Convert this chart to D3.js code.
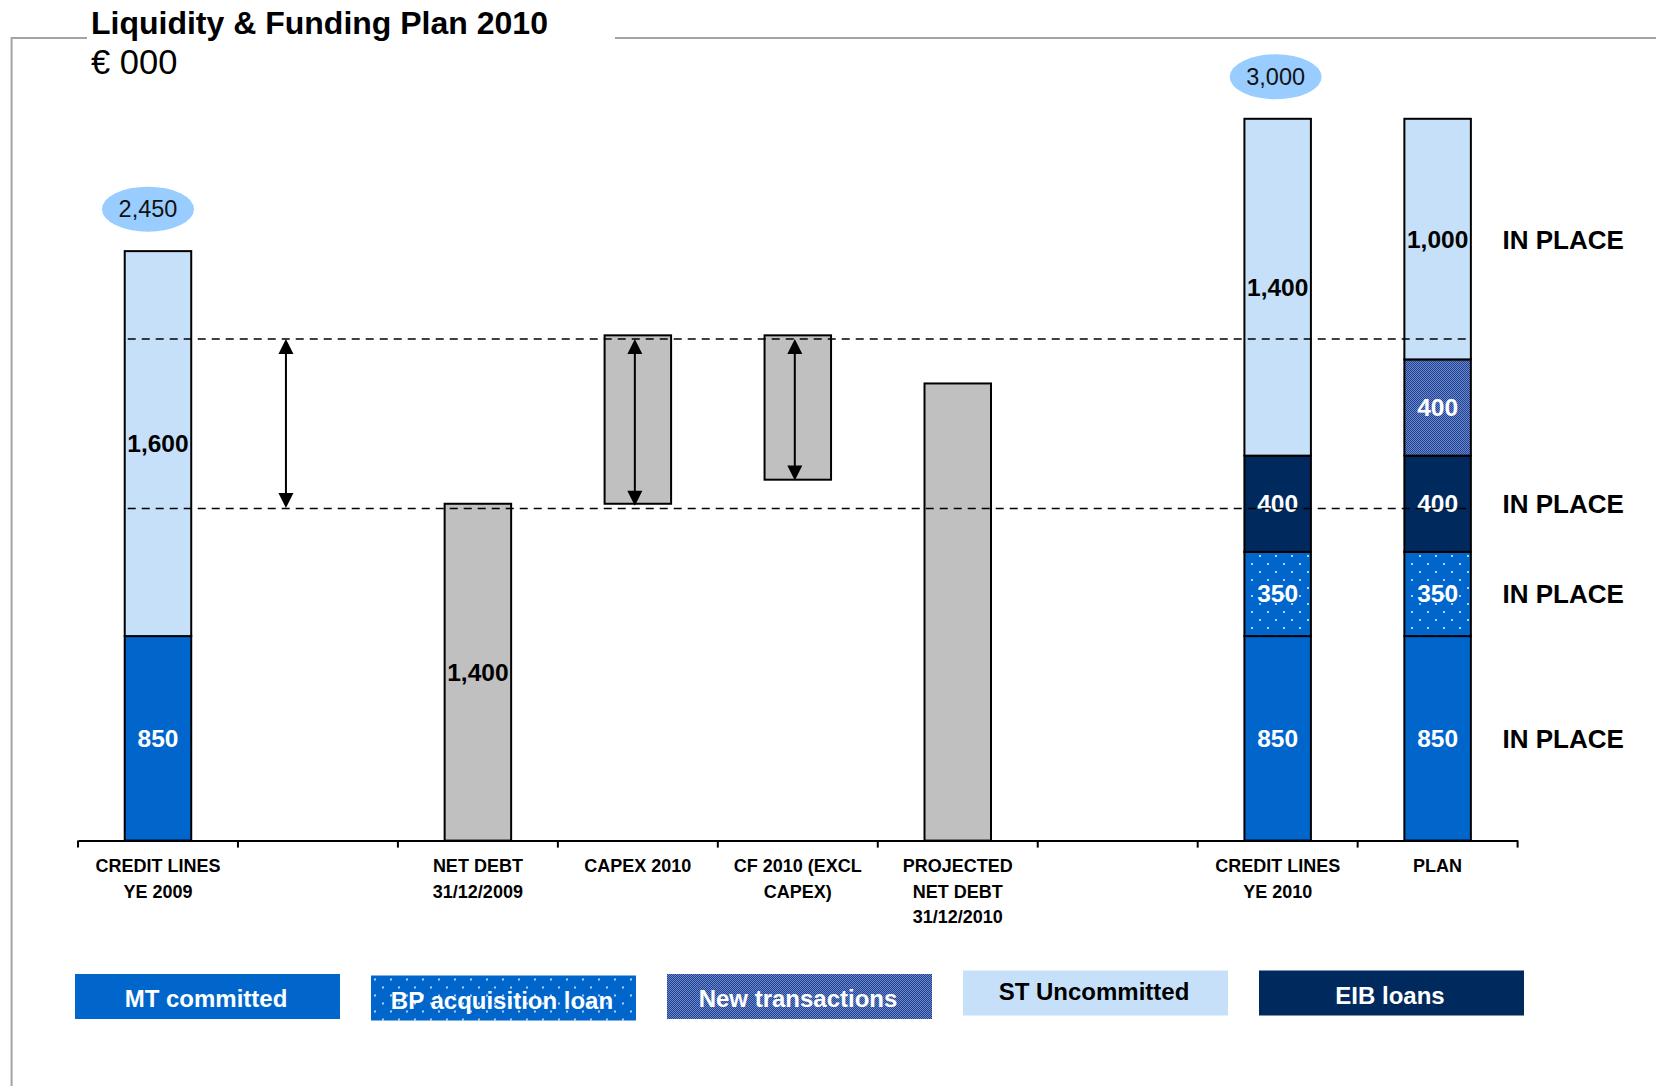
<!DOCTYPE html>
<html>
<head>
<meta charset="utf-8">
<title>Liquidity &amp; Funding Plan 2010</title>
<script src="https://cdn.jsdelivr.net/npm/d3@7"></script>
<style>
  html, body { margin: 0; padding: 0; background: #ffffff; }
  svg { display: block; font-family: "Liberation Sans", Arial, Helvetica, sans-serif; }
</style>
</head>
<body>
<svg id="chart" width="1656" height="1086"></svg>
<script>
// ---- Data -------------------------------------------------------------
const categories = ["CL2009", "GAP1", "ND2009", "CAPEX", "CF", "PND2010", "GAP2", "CL2010", "PLAN"];
const categoryLabels = [
  ["CREDIT LINES", "YE 2009"],
  [],
  ["NET DEBT", "31/12/2009"],
  ["CAPEX 2010"],
  ["CF 2010 (EXCL", "CAPEX)"],
  ["PROJECTED", "NET DEBT", "31/12/2010"],
  [],
  ["CREDIT LINES", "YE 2010"],
  ["PLAN"]
];

// stacked funding bars
const stackCategories = ["CL2009", "CL2010", "PLAN"];
const seriesKeys = ["MT committed", "BP acquisition loan", "EIB loans", "New transactions", "ST Uncommitted"];
const mtCommitted       = [850, 850, 850];
const bpAcquisitionLoan = [0, 350, 350];
const eibLoans          = [0, 400, 400];
const newTransactions   = [0, 0, 400];
const stUncommitted     = [1600, 1400, 1000];
const totalShownFor     = ["CL2009", "CL2010"];

// net debt bridge (floating grey bars)
const bridgeCategories = ["ND2009", "CAPEX", "CF", "PND2010"];
const bridgeLow        = [0, 1400, 1500, 0];
const bridgeHigh       = [1400, 2100, 2100, 1900];
const bridgeLabelShown = [true, false, false, false];

// dashed reference levels and double arrows
const referenceLevels = [1380, 2085];
const arrowCategories = ["GAP1", "CAPEX", "CF"];
const arrowTop        = [2085, 2085, 2085];
const arrowBottom     = [1382, 1392, 1497];

// "IN PLACE" annotations next to the plan bar
const inPlaceSeries = ["MT committed", "BP acquisition loan", "EIB loans", "ST Uncommitted"];
const inPlaceText = "IN PLACE";

// legend order
const legendKeys = ["MT committed", "BP acquisition loan", "New transactions", "ST Uncommitted", "EIB loans"];

// ---- Styles ------------------------------------------------------------
const fills = {
  "MT committed": "#0066cc",
  "BP acquisition loan": "url(#dots)",
  "EIB loans": "#00295e",
  "New transactions": "url(#checker)",
  "ST Uncommitted": "#c6e0f9"
};
const textColors = {
  "MT committed": "#ffffff",
  "BP acquisition loan": "#ffffff",
  "EIB loans": "#ffffff",
  "New transactions": "#ffffff",
  "ST Uncommitted": "#000000"
};
const fmt = d3.format(",");

// ---- Layout ------------------------------------------------------------
const svg = d3.select("#chart");
const x = d3.scaleBand().domain(categories).range([78, 1517.6]).padding(0);
const y = d3.scaleLinear().domain([0, 3000]).range([840.6, 118.8]);
const barW = 66.5;
const barX = c => x(c) + (x.bandwidth() - barW) / 2;
const barC = c => x(c) + x.bandwidth() / 2;

// patterns
const defs = svg.append("defs");
const dots = defs.append("pattern").attr("id", "dots")
  .attr("patternUnits", "userSpaceOnUse").attr("width", 16).attr("height", 16);
dots.append("rect").attr("width", 16).attr("height", 16).attr("fill", "#0066cc");
dots.append("circle").attr("cx", 4).attr("cy", 4).attr("r", 1.1).attr("fill", "#d6e8ff");
dots.append("circle").attr("cx", 12).attr("cy", 12).attr("r", 1.1).attr("fill", "#d6e8ff");

const checker = defs.append("pattern").attr("id", "checker")
  .attr("patternUnits", "userSpaceOnUse").attr("width", 2).attr("height", 2);
checker.append("rect").attr("width", 2).attr("height", 2).attr("fill", "#6c88c4");
checker.append("rect").attr("x", 0).attr("y", 0).attr("width", 1).attr("height", 1).attr("fill", "#1f4296");
checker.append("rect").attr("x", 1).attr("y", 1).attr("width", 1).attr("height", 1).attr("fill", "#1f4296");

// frame around the slide content
svg.append("path")
  .attr("d", "M87,38 H11.6 V1086")
  .attr("fill", "none").attr("stroke", "#a3a3a3").attr("stroke-width", 2);
svg.append("line")
  .attr("x1", 615).attr("x2", 1656).attr("y1", 38).attr("y2", 38)
  .attr("stroke", "#a3a3a3").attr("stroke-width", 2);

// title
svg.append("text").attr("x", 91).attr("y", 34)
  .attr("font-size", 32).attr("font-weight", "bold").attr("fill", "#000")
  .text("Liquidity & Funding Plan 2010");
svg.append("text").attr("x", 91).attr("y", 74)
  .attr("font-size", 34.5).attr("fill", "#000")
  .text("€ 000");

// ---- Axis ----------------------------------------------------------------
const axisG = svg.append("g").attr("transform", `translate(0,${y(0)})`)
  .call(d3.axisBottom(x).tickSize(0).tickFormat(""));
axisG.select(".domain").attr("stroke", "#000").attr("stroke-width", 2);
axisG.selectAll(".tick").remove();
const boundaries = d3.range(categories.length + 1).map(i => x.range()[0] + i * x.step());
axisG.selectAll("line.boundary").data(boundaries).join("line")
  .attr("class", "boundary")
  .attr("x1", d => d).attr("x2", d => d)
  .attr("y1", 0).attr("y2", 7)
  .attr("stroke", "#000").attr("stroke-width", 2);

const labelG = svg.append("g");
categories.forEach((c, i) => {
  const t = labelG.append("text")
    .attr("x", barC(c)).attr("y", 872)
    .attr("text-anchor", "middle")
    .attr("font-size", 18).attr("font-weight", "bold").attr("fill", "#000");
  categoryLabels[i].forEach((line, j) => {
    t.append("tspan").attr("x", barC(c)).attr("dy", j === 0 ? 0 : 25.5).text(line);
  });
});

// ---- Bridge bars ------------------------------------------------------------
const bridge = bridgeCategories.map((c, i) => ({ c, lo: bridgeLow[i], hi: bridgeHigh[i], show: bridgeLabelShown[i] }));
svg.append("g").selectAll("rect").data(bridge).join("rect")
  .attr("x", d => barX(d.c)).attr("width", barW)
  .attr("y", d => y(d.hi)).attr("height", d => y(d.lo) - y(d.hi))
  .attr("fill", "#c0c0c0").attr("stroke", "#000").attr("stroke-width", 2);
svg.append("g").selectAll("text").data(bridge.filter(d => d.show)).join("text")
  .attr("x", d => barC(d.c)).attr("y", d => (y(d.lo) + y(d.hi)) / 2 + 8.5)
  .attr("text-anchor", "middle").attr("font-size", 24.5).attr("font-weight", "bold")
  .attr("fill", "#000").text(d => fmt(d.hi - d.lo));

// ---- Stacked funding bars ------------------------------------------------------
const seriesValues = {
  "MT committed": mtCommitted,
  "BP acquisition loan": bpAcquisitionLoan,
  "EIB loans": eibLoans,
  "New transactions": newTransactions,
  "ST Uncommitted": stUncommitted
};
const table = stackCategories.map((c, i) => {
  const row = { c };
  seriesKeys.forEach(k => { row[k] = seriesValues[k][i]; });
  return row;
});
const stacked = d3.stack().keys(seriesKeys)(table);

const segments = [];
stacked.forEach(layer => {
  layer.forEach(p => {
    if (p[1] - p[0] > 0) segments.push({ key: layer.key, c: p.data.c, y0: p[0], y1: p[1] });
  });
});

svg.append("g").selectAll("rect").data(segments).join("rect")
  .attr("x", d => barX(d.c)).attr("width", barW)
  .attr("y", d => y(d.y1)).attr("height", d => y(d.y0) - y(d.y1))
  .attr("fill", d => fills[d.key]).attr("stroke", "#000").attr("stroke-width", 2);

svg.append("g").selectAll("text").data(segments).join("text")
  .attr("x", d => barC(d.c)).attr("y", d => (y(d.y0) + y(d.y1)) / 2 + 8.5)
  .attr("text-anchor", "middle").attr("font-size", 24.5).attr("font-weight", "bold")
  .attr("fill", d => textColors[d.key]).text(d => fmt(d.y1 - d.y0));

// totals in ellipses above the credit-line bars
const totals = table.filter(r => totalShownFor.includes(r.c))
  .map(r => ({ c: r.c, total: d3.sum(seriesKeys, k => r[k]) }));
const totalG = svg.append("g").selectAll("g").data(totals).join("g")
  .attr("transform", (d, i) => `translate(${barC(d.c) - (i === 0 ? 10 : 2)},${y(d.total) - 42})`);
totalG.append("ellipse").attr("rx", 46).attr("ry", 22.5).attr("fill", "#99ccff");
totalG.append("text").attr("text-anchor", "middle").attr("y", 8)
  .attr("font-size", 23.5).attr("fill", "#111").text(d => fmt(d.total));

// "IN PLACE" annotations aligned to plan segments
const planSegments = segments.filter(d => d.c === "PLAN" && inPlaceSeries.includes(d.key));
svg.append("g").selectAll("text").data(planSegments).join("text")
  .attr("x", 1502.5).attr("y", d => (y(d.y0) + y(d.y1)) / 2 + 9.5)
  .attr("font-size", 26).attr("font-weight", "bold").attr("fill", "#000")
  .text(inPlaceText);

// ---- Reference lines and arrows ----------------------------------------------------
const lineStart = barX("CL2009") + 3;
const lineEnd = barX("PLAN") + barW;
svg.append("g").selectAll("line").data(referenceLevels).join("line")
  .attr("x1", lineStart).attr("x2", lineEnd)
  .attr("y1", d => y(d)).attr("y2", d => y(d))
  .attr("stroke", "#000").attr("stroke-width", 1.6).attr("stroke-dasharray", "8,6");

const arrows = arrowCategories.map((c, i) => ({
  x: c.startsWith("GAP") ? x(c) + x.step() * 0.3 : barC(c) - 3,
  top: y(arrowTop[i]), bottom: y(arrowBottom[i])
}));
const arrowG = svg.append("g");
const headW = 7.5, headH = 15;
arrows.forEach(a => {
  arrowG.append("line").attr("x1", a.x).attr("x2", a.x)
    .attr("y1", a.top + headH - 2).attr("y2", a.bottom - headH + 2)
    .attr("stroke", "#000").attr("stroke-width", 2);
  arrowG.append("path")
    .attr("d", `M${a.x},${a.top} L${a.x - headW},${a.top + headH} L${a.x + headW},${a.top + headH} Z`)
    .attr("fill", "#000");
  arrowG.append("path")
    .attr("d", `M${a.x},${a.bottom} L${a.x - headW},${a.bottom - headH} L${a.x + headW},${a.bottom - headH} Z`)
    .attr("fill", "#000");
});

// ---- Legend --------------------------------------------------------------------
const legendX = d3.scalePoint().domain(legendKeys).range([75, 1259]);
const legendTop = { "MT committed": 974, "BP acquisition loan": 975.5, "New transactions": 974, "ST Uncommitted": 970.5, "EIB loans": 970.5 };
const legendG = svg.append("g").selectAll("g").data(legendKeys).join("g")
  .attr("transform", d => `translate(${legendX(d)},${legendTop[d]})`);
legendG.append("rect").attr("width", 265).attr("height", 45)
  .attr("fill", d => fills[d]);
legendG.append("text").attr("x", 131).attr("y", d => d === "ST Uncommitted" ? 29 : 33)
  .attr("text-anchor", "middle").attr("font-size", 24).attr("font-weight", "bold")
  .attr("fill", d => textColors[d]).text(d => d);
</script>
</body>
</html>
